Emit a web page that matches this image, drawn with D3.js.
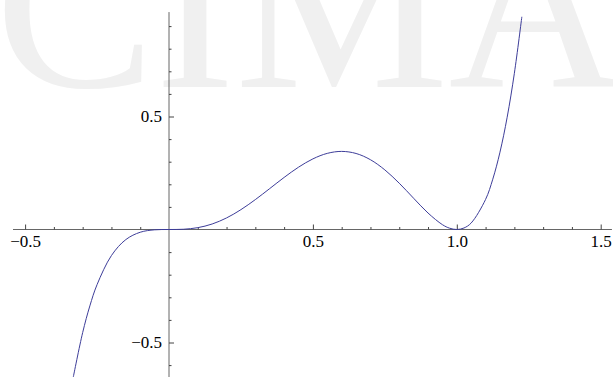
<!DOCTYPE html>
<html>
<head>
<meta charset="utf-8">
<script src="https://cdn.jsdelivr.net/npm/d3@7/dist/d3.min.js"></script>
<style>
  html, body { margin: 0; padding: 0; background: #fff; }
  svg { display: block; }
  text { font-family: "Liberation Serif", "DejaVu Serif", serif; }
</style>
</head>
<body>
<svg id="chart" width="613" height="377"></svg>
<script>
// ---- data ----
const curveX = [-0.3325, -0.30, -0.275, -0.25, -0.20, -0.15, -0.10, -0.05, 0.00, 0.05, 0.10, 0.15, 0.20, 0.25, 0.30, 0.35, 0.40, 0.45, 0.50, 0.55, 0.60, 0.65, 0.70, 0.75, 0.80, 0.85, 0.90, 0.95, 0.975, 1.00, 1.025, 1.05, 1.10, 1.125, 1.15, 1.175, 1.20, 1.226];
const curveY = [-0.6527, -0.4563, -0.3381, -0.2441, -0.1152, -0.0446, -0.0121, -0.0014, 0.0000, 0.0011, 0.0081, 0.0244, 0.0512, 0.0879, 0.1323, 0.1811, 0.2304, 0.2757, 0.3125, 0.3369, 0.3456, 0.3364, 0.3087, 0.2637, 0.2048, 0.1382, 0.0729, 0.0214, 0.0058, 0.0000, 0.0067, 0.0289, 0.1331, 0.2225, 0.3422, 0.4968, 0.6912, 0.9413];
const xMajorTicks = [-0.5, 0.5, 1.0, 1.5];
const xMinorTicks = [-0.4, -0.3, -0.2, -0.1, 0.1, 0.2, 0.3, 0.4, 0.6, 0.7, 0.8, 0.9, 1.1, 1.2, 1.3, 1.4];
const yMajorTicks = [-0.5, 0.5];
const yMinorTicks = [-0.6, -0.4, -0.3, -0.2, -0.1, 0.1, 0.2, 0.3, 0.4, 0.6, 0.7, 0.8, 0.9];
const xAxisExtent = [-0.542, 1.539];
const yAxisExtent = [-0.653, 0.962];
const watermark = "CIMAT";

// ---- layout ----
const svg = d3.select("#chart");
const x = d3.scaleLinear().domain([-0.5, 1.5]).range([25.1, 600.7]);
const y = d3.scaleLinear().domain([-0.5, 0.5]).range([342.5, 116.5]);
const fmt = d => (d < 0 ? "\u2212" : "") + Math.abs(d).toFixed(1);

// watermark
svg.append("text")
  .attr("x", -5).attr("y", 87)
  .attr("font-size", 240)
  .attr("fill", "#f0f0f0")
  .text(watermark);

const axisColor = "#666";

// x axis
const gx = svg.append("g").attr("transform", `translate(0,${y(0)})`);
gx.append("line")
  .attr("x1", x(xAxisExtent[0])).attr("x2", x(xAxisExtent[1]))
  .attr("stroke", axisColor).attr("stroke-width", 1);
gx.append("g")
  .call(d3.axisBottom(x).tickValues(xMinorTicks).tickSize(-2.5).tickFormat(""))
  .call(g => { g.select(".domain").remove(); g.selectAll("text").remove(); });
gx.append("g")
  .call(d3.axisBottom(x).tickValues(xMajorTicks).tickSize(-5).tickPadding(5).tickFormat(fmt))
  .call(g => g.select(".domain").remove());

// y axis
const gy = svg.append("g").attr("transform", `translate(${x(0)},0)`);
gy.append("line")
  .attr("y1", y(yAxisExtent[0])).attr("y2", y(yAxisExtent[1]))
  .attr("stroke", axisColor).attr("stroke-width", 1);
gy.append("g")
  .call(d3.axisLeft(y).tickValues(yMinorTicks).tickSize(-2.5).tickFormat(""))
  .call(g => { g.select(".domain").remove(); g.selectAll("text").remove(); });
gy.append("g")
  .call(d3.axisLeft(y).tickValues(yMajorTicks).tickSize(-5).tickPadding(7).tickFormat(fmt))
  .call(g => g.select(".domain").remove());

svg.selectAll(".tick line").attr("stroke", "#444");
svg.selectAll(".tick text")
  .attr("font-family", "Liberation Serif, serif")
  .attr("font-size", 17)
  .attr("fill", "#000");

// curve
const pts = curveX.map((d, i) => [d, curveY[i]]);
const line = d3.line()
  .x(d => x(d[0])).y(d => y(d[1]))
  .curve(d3.curveCatmullRom.alpha(0.5));
svg.append("path")
  .datum(pts)
  .attr("d", line)
  .attr("fill", "none")
  .attr("stroke", "rgb(61,61,153)")
  .attr("stroke-width", 1);
</script>
</body>
</html>
